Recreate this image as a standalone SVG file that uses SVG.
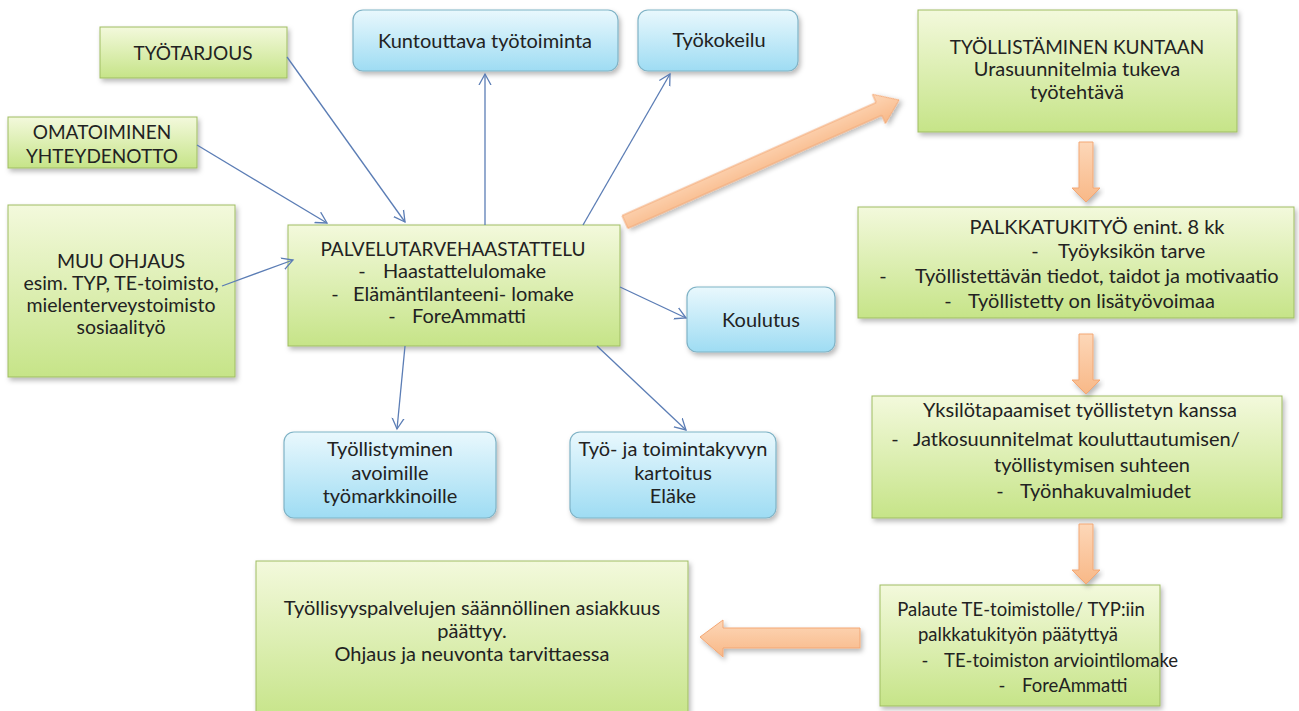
<svg xmlns="http://www.w3.org/2000/svg" width="1299" height="711" viewBox="0 0 1299 711">
<defs>
<linearGradient id="gg" x1="0" y1="0" x2="0" y2="1">
<stop offset="0" stop-color="#f3f9dc"/>
<stop offset="1" stop-color="#c6e488"/>
</linearGradient>
<linearGradient id="bg" x1="0" y1="0" x2="0" y2="1">
<stop offset="0" stop-color="#e9f8fd"/>
<stop offset="1" stop-color="#9edcf3"/>
</linearGradient>
<linearGradient id="og" x1="0" y1="0" x2="0" y2="1">
<stop offset="0" stop-color="#fdd7b8"/>
<stop offset="1" stop-color="#f8b887"/>
</linearGradient>
<filter id="sh" x="-10%" y="-10%" width="125%" height="130%">
<feDropShadow dx="2" dy="3" stdDeviation="2.5" flood-color="#000" flood-opacity="0.28"/>
</filter>
<marker id="ah" markerUnits="userSpaceOnUse" markerWidth="14" markerHeight="14" refX="11" refY="6" orient="auto" viewBox="0 0 14 12">
<path d="M0,0 L11,6 L0,12" fill="none" stroke="#5b7db5" stroke-width="1.3"/>
</marker>
</defs>
<style>
.g{fill:url(#gg);stroke:#9fbd62;stroke-width:1;filter:url(#sh)}
.b{fill:url(#bg);stroke:#7fb3c6;stroke-width:1.2;filter:url(#sh)}
.o{fill:url(#og);stroke:#f3a774;stroke-width:1;filter:url(#sh)}
text{font-family:Lato,"Open Sans","Liberation Sans",sans-serif;font-size:20px;fill:#222;text-anchor:middle}
text.s{text-anchor:start}
text.cap{font-size:19px}
#muu text{font-size:19.5px}
#palaute text{font-size:18.5px}
.c{stroke:#5b7db5;stroke-width:1.3;fill:none;marker-end:url(#ah)}
</style>
<rect width="1299" height="711" fill="#fff"/>

<g id="tyotarjous">
<rect class="g" x="100" y="27" width="187" height="51"/>
<text class="cap" x="193" y="60">TYÖTARJOUS</text>
</g>
<g id="omatoiminen">
<rect class="g" x="8" y="117" width="189" height="51"/>
<text class="cap" x="102" y="139">OMATOIMINEN</text>
<text class="cap" x="102" y="163">YHTEYDENOTTO</text>
</g>
<g id="muu">
<rect class="g" x="8" y="205" width="227" height="172"/>
<text class="cap" x="121" y="268">MUU OHJAUS</text>
<text x="121" y="290">esim. TYP, TE-toimisto,</text>
<text x="121" y="312">mielenterveystoimisto</text>
<text x="121" y="334">sosiaalityö</text>
</g>
<g id="palvelu">
<rect class="g" x="288" y="225" width="332" height="121"/>
<text class="cap" x="453" y="256">PALVELUTARVEHAASTATTELU</text>
<text x="362" y="278">-</text><text class="s" x="383" y="278">Haastattelulomake</text>
<text x="335" y="301">-</text><text class="s" x="353" y="301">Elämäntilanteeni- lomake</text>
<text x="392" y="323">-</text><text class="s" x="412" y="323">ForeAmmatti</text>
</g>
<g id="kuntouttava">
<rect class="b" x="353" y="10" width="265" height="61" rx="10"/>
<text x="485" y="48">Kuntouttava työtoiminta</text>
</g>
<g id="tyokokeilu">
<rect class="b" x="638" y="10" width="160" height="61" rx="10"/>
<text x="719" y="47">Työkokeilu</text>
</g>
<g id="koulutus">
<rect class="b" x="687" y="287" width="148" height="65" rx="10"/>
<text x="761" y="327">Koulutus</text>
</g>
<g id="avoimille">
<rect class="b" x="284" y="432" width="212" height="86" rx="10"/>
<text x="390" y="456">Työllistyminen</text>
<text x="390" y="480">avoimille</text>
<text x="390" y="503">työmarkkinoille</text>
</g>
<g id="kartoitus">
<rect class="b" x="570" y="432" width="206" height="86" rx="10"/>
<text x="673" y="456">Työ- ja toimintakyvyn</text>
<text x="673" y="480">kartoitus</text>
<text x="673" y="503">Eläke</text>
</g>
<g id="kuntaan">
<rect class="g" x="918" y="10" width="319" height="122"/>
<text class="cap" x="1077" y="54">TYÖLLISTÄMINEN KUNTAAN</text>
<text x="1077" y="76">Urasuunnitelmia tukeva</text>
<text x="1077" y="99">työtehtävä</text>
</g>
<g id="palkkatuki">
<rect class="g" x="858" y="207" width="436" height="111"/>
<text x="1097" y="234">PALKKATUKITYÖ enint. 8 kk</text>
<text x="1035" y="258">-</text><text class="s" x="1058" y="258">Työyksikön tarve</text>
<text x="883" y="283">-</text><text class="s" x="915" y="283">Työllistettävän tiedot, taidot ja motivaatio</text>
<text x="948" y="308">-</text><text class="s" x="968" y="308">Työllistetty on lisätyövoimaa</text>
</g>
<g id="yksilo">
<rect class="g" x="872" y="396" width="410" height="122"/>
<text x="1080" y="417">Yksilötapaamiset työllistetyn kanssa</text>
<text x="895" y="446">-</text><text class="s" x="913" y="446">Jatkosuunnitelmat kouluttautumisen/</text>
<text x="1092" y="472">työllistymisen suhteen</text>
<text x="1000" y="498">-</text><text class="s" x="1020" y="498">Työnhakuvalmiudet</text>
</g>
<g id="palaute">
<rect class="g" x="880" y="585" width="280" height="121"/>
<text x="1021" y="616">Palaute TE-toimistolle/ TYP:iin</text>
<text x="1018" y="641">palkkatukityön päätyttyä</text>
<text x="925" y="667">-</text><text class="s" x="944" y="667">TE-toimiston arviointilomake</text>
<text x="1002" y="692">-</text><text class="s" x="1022" y="692">ForeAmmatti</text>
</g>
<g id="paattyy">
<rect class="g" x="256" y="561" width="432" height="160"/>
<text x="472" y="615">Työllisyyspalvelujen säännöllinen asiakkuus</text>
<text x="472" y="638">päättyy.</text>
<text x="472" y="661">Ohjaus ja neuvonta tarvittaessa</text>
</g>

<g id="connectors">
<line class="c" x1="287" y1="57" x2="405" y2="222"/>
<line class="c" x1="197" y1="145" x2="327" y2="223"/>
<line class="c" x1="222" y1="286" x2="293" y2="260"/>
<line class="c" x1="485" y1="225" x2="485" y2="74"/>
<line class="c" x1="583" y1="225" x2="670" y2="74"/>
<line class="c" x1="620" y1="287" x2="686" y2="318"/>
<line class="c" x1="405" y1="346" x2="397" y2="429"/>
<line class="c" x1="597" y1="346" x2="686" y2="430"/>
<polygon class="o" transform="translate(625,222) rotate(-24)" points="0,-7 278,-7 278,-16 300,0 278,16 278,7 0,7"/>
<polygon class="o" points="1079,142 1093,142 1093,188 1100,188 1086,202 1072,188 1079,188"/>
<polygon class="o" points="1079,334 1093,334 1093,380 1100,380 1086,394 1072,380 1079,380"/>
<polygon class="o" points="1079,524 1093,524 1093,570 1100,570 1086,584 1072,570 1079,570"/>
<polygon class="o" points="860,628 860,648 723,648 723,657 700,637 723,620 723,628"/>
</g>
</svg>
